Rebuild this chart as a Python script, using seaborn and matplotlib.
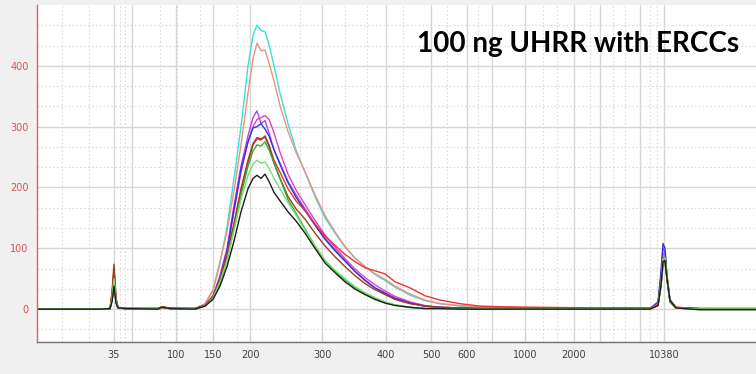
import numpy as np
import pandas as pd
import matplotlib
matplotlib.use("Agg")
import matplotlib.pyplot as plt
import seaborn as sns

# ---- ladder (HS DNA): size in bp and migration time (s) ----
ladder_bp = [35, 50, 100, 150, 200, 300, 400, 500, 600, 700, 1000, 2000, 3000, 7000, 10380]
ladder_time = [27.7, 29.5, 33.9, 37.6, 41.3, 48.5, 54.9, 59.4, 63.0, 65.5, 68.8, 73.7, 76.3, 80.3, 82.7]
labeled_bp = [35, 100, 150, 200, 300, 400, 500, 600, 1000, 2000, 10380]

# ---- sample traces: fluorescence vs migration time ----
time_s = [20.0, 26.3, 27.3, 27.5, 27.7, 27.9, 28.1, 28.8, 32.1, 32.5, 33.3, 35.8, 36.8,
          37.6, 38.3, 39.0, 39.7, 40.4, 41.1, 41.6, 42.0, 42.4, 42.8, 43.2, 43.7, 44.3,
          45.1, 45.9, 46.8, 47.8, 48.8, 49.8, 50.8, 51.8, 52.8, 53.8, 54.8, 55.8, 57.3,
          58.8, 60.3, 62.3, 64.3, 66.3, 70.3, 76.3, 81.3,
          82.1, 82.4, 82.6, 82.8, 83.0, 83.3, 83.9, 86.3, 91.9]

cyan = [0, 0, 1, 18, 55, 14, 2, 1, 1, 3, 1, 1, 8,
        30, 75, 135, 215, 300, 400, 450, 467, 458, 456, 435, 400, 355, 305, 262, 225, 185, 150,
        125, 102, 84, 70, 57, 47, 36, 23, 14, 9, 5, 3, 2, 2, 1, 1,
        8, 50, 92, 88, 48, 12, 2, 1, 0]
salmon = [0, 0, 1, 22, 62, 16, 2, 1, 1, 4, 1, 1, 9,
          32, 78, 128, 195, 270, 355, 412, 437, 425, 426, 405, 375, 335, 292, 258, 226, 188, 154,
          127, 103, 84, 70, 58, 49, 38, 25, 15, 9, 6, 4, 3, 2, 2, 1,
          6, 35, 70, 76, 52, 14, 3, 1, 1]
violet = [0, 0, 1, 15, 45, 12, 2, 1, 1, 3, 1, 1, 6,
          22, 55, 100, 170, 235, 285, 315, 326, 305, 310, 290, 262, 240, 210, 188, 165, 140, 117,
          98, 80, 62, 48, 35, 27, 18, 10, 5, 3, 2, 1, 1, 1, 1, 1,
          10, 55, 100, 95, 50, 12, 2, 0, 0]
magenta = [0, 0, 1, 18, 52, 14, 2, 1, 1, 3, 1, 1, 6,
           20, 50, 92, 160, 225, 275, 300, 312, 315, 318, 312, 290, 258, 222, 196, 172, 146, 122,
           102, 83, 66, 52, 40, 30, 21, 12, 6, 3, 2, 1, 1, 1, 1, 1,
           8, 48, 90, 92, 52, 14, 2, 0, 0]
blue = [0, 0, 1, 14, 40, 12, 2, 1, 1, 3, 1, 1, 6,
        20, 52, 95, 165, 230, 275, 298, 300, 305, 296, 285, 262, 238, 208, 184, 162, 138, 115,
        96, 79, 62, 47, 35, 26, 18, 10, 5, 3, 2, 1, 1, 1, 1, 1,
        12, 62, 108, 100, 55, 12, 2, 0, 0]
red = [0, 0, 1, 25, 66, 18, 3, 1, 1, 4, 2, 1, 6,
       22, 50, 90, 140, 195, 240, 270, 280, 278, 285, 270, 245, 225, 198, 178, 162, 140, 120,
       105, 90, 78, 68, 63, 58, 45, 35, 22, 15, 9, 5, 4, 3, 2, 2,
       8, 45, 85, 80, 48, 14, 3, 1, 1]
brown = [0, 0, 1, 28, 74, 18, 3, 1, 1, 4, 1, 1, 6,
         20, 48, 88, 140, 198, 245, 272, 282, 280, 283, 268, 240, 215, 185, 165, 148, 125, 104,
         86, 70, 55, 42, 32, 24, 16, 9, 5, 3, 2, 1, 1, 1, 1, 1,
         6, 38, 75, 82, 55, 16, 3, 1, 1]
green = [0, 0, 1, 16, 45, 12, 2, 1, 0, 3, 1, 0, 5,
         18, 42, 80, 132, 188, 235, 260, 270, 268, 275, 262, 240, 215, 180, 158, 132, 104, 80,
         63, 48, 36, 26, 18, 11, 7, 3, 1, 1, 0, 0, 0, 0, 0, 0,
         6, 40, 80, 86, 55, 14, 2, 0, 0]
lightgreen = [0, 0, 1, 18, 50, 13, 2, 1, 0, 3, 1, 0, 5,
              18, 45, 80, 130, 180, 220, 238, 245, 240, 242, 232, 215, 198, 175, 155, 130, 104, 80,
              64, 50, 37, 27, 19, 12, 7, 3, 1, 1, 0, 0, 0, 0, 0, 0,
              7, 42, 82, 84, 52, 14, 2, 0, 0]
black = [0, 0, 1, 12, 38, 10, 2, 1, 0, 3, 1, 0, 5,
         16, 38, 70, 112, 160, 198, 215, 220, 215, 222, 210, 192, 178, 160, 145, 125, 100, 76,
         60, 45, 33, 24, 16, 10, 6, 3, 1, 1, 0, 0, 0, 0, 0, 0,
         6, 40, 78, 80, 50, 14, 2, -1, -1]

samples = ["cyan", "salmon", "violet", "magenta", "blue", "red", "brown",
           "green", "lightgreen", "black"]
values = [cyan, salmon, violet, magenta, blue, red, brown, green, lightgreen, black]
colors = ["#3fdcdc", "#e8937c", "#b044f0", "#e040c8", "#3434d4", "#e83434",
          "#9c3a22", "#2eb02e", "#74e074", "#1c1c1c"]

y_ticks = [0, 100, 200, 300, 400]
minor_time = [22.5, 25.2, 28.3, 28.8, 32.3, 34.0, 36.3, 40.0, 46.3, 50.8, 53.0, 56.6,
              61.0, 64.1, 70.6, 72.0, 75.3, 77.6, 78.8, 81.3, 82.0]

df = pd.DataFrame({
    "time": np.tile(time_s, len(samples)),
    "FU": np.concatenate(values),
    "sample": np.repeat(samples, len(time_s)),
})

sns.set_theme(style="white")
plt.rcParams["font.family"] = ["DejaVu Sans"]

fig = plt.figure(figsize=(7.56, 3.74), dpi=100)
fig.patch.set_facecolor("#f0f0f0")
ax = fig.add_axes([37 / 756, 32 / 374, 1 - 37 / 756, 337 / 374])
ax.set_facecolor("white")

sns.lineplot(data=df, x="time", y="FU", hue="sample", hue_order=samples,
             palette=dict(zip(samples, colors)), estimator=None, sort=False,
             linewidth=1.0, legend=False, ax=ax)

ax.set_xlim(20, 91.9)
ax.set_ylim(-54, 500)

# x ticks: ladder positions, labels only for some
ax.set_xticks(ladder_time)
ax.set_xticklabels([str(b) if b in labeled_bp else "" for b in ladder_bp])
ax.set_xticks(minor_time, minor=True)
ax.set_yticks(y_ticks)
ax.set_yticks([v + d for v in [-100] + y_ticks for d in (33.3, 66.7)
               if -54 < v + d < 500], minor=True)

ax.grid(True, which="major", axis="both", color="#d6d6d6", linewidth=1.0, linestyle="-")
ax.grid(True, which="minor", axis="both", color="#dadada", linewidth=0.8, linestyle=(0, (1.5, 2)))
ax.set_axisbelow(True)

ax.tick_params(axis="x", which="major", direction="inout", length=6, width=0.8,
               color="#606060", labelsize=7, labelcolor="#404040", pad=3)
ax.tick_params(axis="x", which="minor", length=0)
ax.tick_params(axis="y", which="major", direction="out", length=4, width=0.8,
               color="#e06060", labelsize=7, labelcolor="#e05050", pad=2)
ax.tick_params(axis="y", which="minor", length=0)

for s in ["top", "right"]:
    ax.spines[s].set_visible(False)
ax.spines["left"].set_color("#e06060")
ax.spines["left"].set_linewidth(1.0)
ax.spines["bottom"].set_color("#707070")
ax.spines["bottom"].set_linewidth(1.0)

ax.set_xlabel("")
ax.set_ylabel("")

fig.text(739 / 756, 1 - 44 / 374, "100 ng UHRR with ERCCs", ha="right", va="center",
         fontsize=20, fontweight="bold", family="Lato", color="black")

fig.savefig("out.png", dpi=100, facecolor=fig.get_facecolor())
